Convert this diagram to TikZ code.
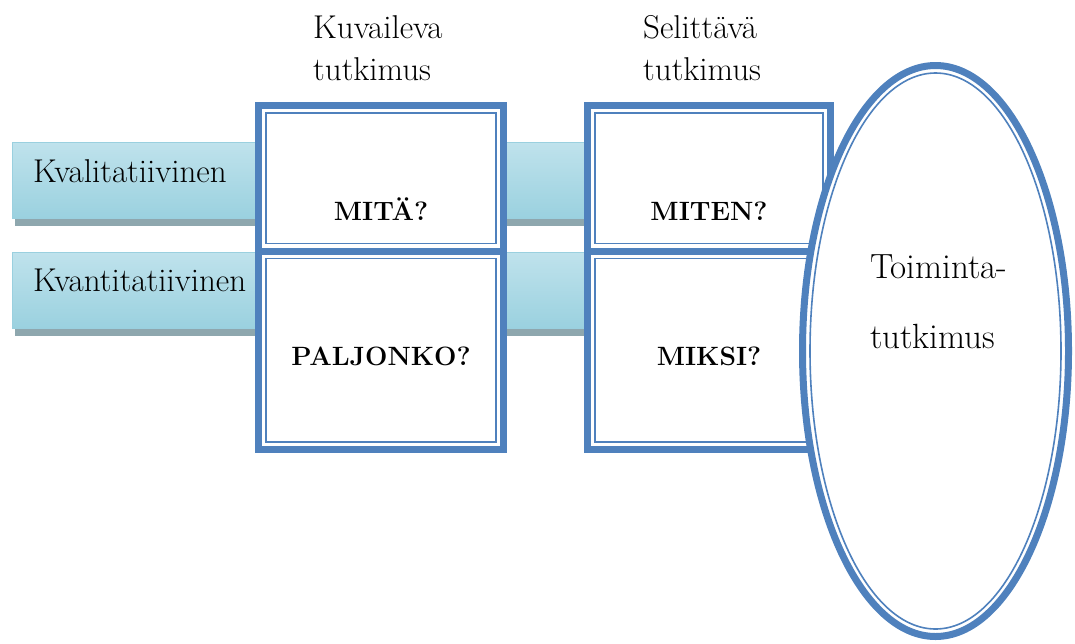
\documentclass[tikz,border=0pt]{standalone}
\usetikzlibrary{shapes.geometric,shadows}
\definecolor{cajaazul}{HTML}{4F81BD}
\definecolor{bandaborde}{HTML}{9AD0DF}
\definecolor{bandasup}{HTML}{BFE2EC}
\definecolor{bandamed}{HTML}{DDEFF5}
\definecolor{bandainf}{HTML}{9AD1DF}
\definecolor{sombragris}{HTML}{8EA7AE}

\begin{document}
\begin{tikzpicture}[x=1pt, y=-1pt,
  banda/.style={draw=bandaborde, line width=1pt, top color=bandasup, middle color=bandamed, bottom color=bandainf,
    minimum width=574pt, minimum height=76pt, anchor=north west, inner sep=0pt,
    drop shadow={shadow xshift=2pt, shadow yshift=-7pt, fill=sombragris, opacity=1}},
  caja/.style={draw=cajaazul, line width=7pt, fill=white, outer sep=0pt, inner sep=0pt, anchor=north west},
  linea/.style={draw=cajaazul, line width=1.6pt},
  ovalo/.style={ellipse, draw=cajaazul, line width=7pt, fill=white, outer sep=0pt, inner sep=0pt},
  etiqueta/.style={inner sep=0pt, font=\fontsize{33}{42}\selectfont},
  cabecera/.style={inner sep=0pt, align=left, anchor=north west, font=\fontsize{33}{42}\selectfont},
  pregunta/.style={inner sep=0pt, anchor=base, font=\fontsize{26.5}{30}\selectfont\bfseries}]
  \useasboundingbox (0,0) rectangle (1075,643);

  % Bandas
  \node[banda] (kval) at (12,142) {};
  \node[banda] (kvant) at (12,252) {};
  \node[etiqueta, anchor=base west] (kvaltxt) at (33,182) {Kvalitatiivinen};
  \node[etiqueta, anchor=base west] (kvanttxt) at (33,291) {Kvantitatiivinen};

  % Cajas
  \node[caja, minimum width=245pt, minimum height=145.5pt] (mita) at (258.5,105.5) {};
  \node[caja, minimum width=245pt, minimum height=198.5pt] (paljonko) at (258.5,251) {};
  \node[caja, minimum width=243pt, minimum height=145.5pt] (miten) at (587.5,105.5) {};
  \node[caja, minimum width=243pt, minimum height=198.5pt] (miksi) at (587.5,251) {};
  \foreach \n in {mita,paljonko,miten,miksi}
    \draw[linea] ([xshift=7.5pt,yshift=-7.5pt]\n.north west) rectangle ([xshift=-7.5pt,yshift=7.5pt]\n.south east);

  % Elipse
  \node[ovalo, minimum width=266pt, minimum height=571pt] (toiminta) at (935.5,351) {};
  \draw[linea] (toiminta.center) ellipse [x radius=125.5, y radius=278];

  % Textos
  \node[cabecera] (kuvtxt) at (313,15) {Kuvaileva\\tutkimus};
  \node[cabecera] (seltxt) at (643,15) {Selittävä\\tutkimus};
  \node[pregunta] (mitatxt) at (381,220.5) {MITÄ?};
  \node[pregunta] (paljonkotxt) at (381,365.5) {PALJONKO?};
  \node[pregunta] (mitentxt) at (709,220.5) {MITEN?};
  \node[pregunta] (miksitxt) at (709,365.5) {MIKSI?};
  \node[cabecera, font=\fontsize{35}{70}\selectfont] (toimtxt) at (870,254) {Toiminta-\\tutkimus};
\end{tikzpicture}
\end{document}
